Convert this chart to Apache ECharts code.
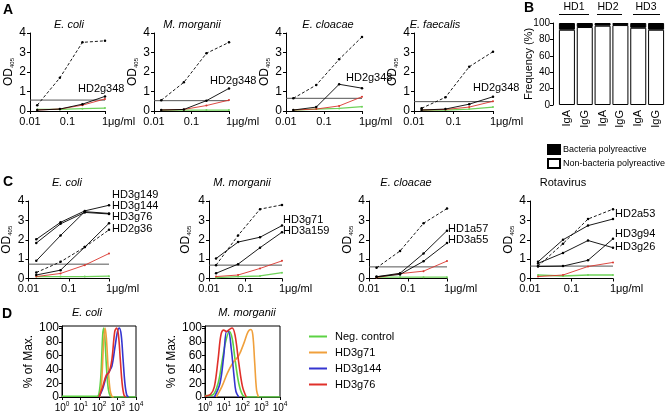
<!DOCTYPE html>
<html><head><meta charset="utf-8">
<script src="https://cdn.jsdelivr.net/npm/echarts@6/dist/echarts.min.js"></script>
<style>html,body{margin:0;padding:0;background:#fff}#c{width:665px;height:415px}</style>
</head><body><div id="c"></div>
<script>
// ---------------- DATA ----------------
const dilutions = [0.0156, 0.0625, 0.25, 1];           // µg/ml
// Panel A (per antigen: E. coli, M. morganii, E. cloacae, E. faecalis)
const aTitles = ['E. coli', 'M. morganii', 'E. cloacae', 'E. faecalis'];
const aPositive = [[0.30, 1.70, 3.52, 3.60], [0.55, 1.47, 2.96, 3.52], [0.65, 1.33, 2.65, 3.80], [0.14, 0.70, 2.27, 3.04]];
const aCutoff = [0.56, 0.53, 0.65, 0.48];
const aHD2g348 = [[0.05, 0.10, 0.35, 0.75], [0.05, 0.08, 0.53, 1.16], [0.05, 0.20, 1.37, 1.17], [0.05, 0.10, 0.35, 0.73]];
const aRed = [[0.05, 0.10, 0.30, 0.62], [0.05, 0.08, 0.28, 0.56], [0.05, 0.10, 0.26, 0.73], [0.05, 0.08, 0.20, 0.50]];
const aGreen = [[0.08, 0.08, 0.12, 0.15], [0.05, 0.05, 0.05, 0.05], [0.05, 0.10, 0.13, 0.22], [0.05, 0.05, 0.10, 0.20]];

// Panel B
const bGroups = ['HD1', 'HD2', 'HD3'];
const bCategories = ['HD1 IgA', 'HD1 IgG', 'HD2 IgA', 'HD2 IgG', 'HD3 IgA', 'HD3 IgG'];
const bNonBacteria = [91.8, 95.1, 96.7, 97.5, 94.2, 91.8];
const bBacteria = [8.2, 4.9, 3.3, 2.5, 5.8, 8.2];

// Panel C
const cTitles = ['E. coli', 'M. morganii', 'E. cloacae', 'Rotavirus'];
const cEcoliSolid = {HD3g149: [2.02, 2.90, 3.49, 3.78], HD3g144: [1.83, 2.82, 3.41, 3.33], HD3g76: [0.91, 2.22, 3.45, 3.36], other: [0.18, 0.43, 1.62, 2.85]};
const cEcoliDashed = [0.31, 0.86, 1.62, 2.51];
const cEcoliRed = [0.10, 0.26, 0.69, 1.29];
const cEcoliGreen = [0.10, 0.10, 0.10, 0.12];
const cEcoliCutoff = 0.74;

const cMorgDashed = [0.69, 2.22, 3.58, 3.80];
const cMorgSolid = {HD3g71: [1.03, 1.88, 2.13, 2.73], HD3a159: [0.27, 0.74, 1.59, 2.39]};
const cMorgRed = [0.10, 0.18, 0.52, 0.91];
const cMorgGreen = [0.05, 0.10, 0.13, 0.30];
const cMorgCutoff = 0.69;

const cCloDashed = [0.55, 1.42, 2.85, 3.61];
const cCloSolid = {HD1a57: [0.09, 0.27, 1.29, 2.47], HD3a55: [0.09, 0.21, 0.89, 1.83]};
const cCloRed = [0.05, 0.25, 0.38, 0.90];
const cCloGreen = [0.07, 0.07, 0.07, 0.07];
const cCloCutoff = 0.60;

const cRotaDashed = [0.64, 1.80, 3.07, 3.58];
const cRotaSolid = {HD2a53: [0.86, 2.00, 2.73, 3.07], HD3g26: [0.78, 1.32, 1.96, 1.59], HD3g94: [0.62, 0.64, 0.94, 2.05]};
const cRotaRed = [0.10, 0.18, 0.62, 0.83];
const cRotaGreen = [0.18, 0.13, 0.18, 0.18];
const cRotaCutoff = 0.64;

// Panel D : [log10 fluorescence, % of max]
const dEcoliNeg = [[0,1],[1.9,1],[2.0,5],[2.1,30],[2.2,90],[2.26,100],[2.32,85],[2.4,45],[2.5,12],[2.6,2],[2.7,0],[4,0]];
const dEcoliHD3g71 = [[2.05,0],[2.15,25],[2.25,80],[2.33,100],[2.4,85],[2.5,40],[2.6,10],[2.7,1],[2.8,0]];
const dEcoliHD3g144 = [[2.0,0],[2.2,12],[2.4,30],[2.55,37],[2.7,45],[2.85,70],[3.0,95],[3.1,100],[3.2,90],[3.3,55],[3.4,20],[3.5,3],[3.6,0]];
const dEcoliHD3g76 = [[2.0,0],[2.2,15],[2.4,32],[2.55,36],[2.7,55],[2.85,95],[2.95,100],[3.05,90],[3.15,55],[3.25,20],[3.35,3],[3.45,0]];
const dMorgNeg = [[0,2],[0.4,3],[0.7,20],[0.9,50],[1.1,80],[1.3,95],[1.45,85],[1.6,55],[1.8,20],[2.0,3],[2.2,0],[4,0]];
const dMorgHD3g71 = [[0.6,0],[0.9,15],[1.2,35],[1.5,50],[1.8,60],[2.1,80],[2.3,95],[2.45,98],[2.55,90],[2.65,50],[2.75,10],[2.85,0]];
const dMorgHD3g144 = [[0.5,0],[0.8,20],[1.0,60],[1.15,95],[1.25,95],[1.4,70],[1.55,30],[1.65,8],[1.8,0]];
const dMorgHD3g76 = [[0,1],[0.3,4],[0.5,15],[0.7,55],[0.85,90],[1.0,97],[1.15,95],[1.3,98],[1.45,100],[1.6,90],[1.8,50],[2.0,15],[2.2,0]];
const dDecades = [0, 1, 2, 3, 4];

// ---------------- STYLE / LAYOUT ----------------
const FONT = '"Liberation Sans", Arial, Helvetica, sans-serif';
const RED = '#d9362e', GREEN = '#6fd25a';
const C_ORANGE = '#f0a03c', C_BLUE = '#3535d0', C_RED = '#e0302a', C_GREEN = '#5cd244';
const grids = [], xAxes = [], yAxes = [], series = [], graphics = [];

function txt(x, y, text, opt) {
  opt = opt || {};
  graphics.push({type: 'text', x, y, rotation: opt.rot || 0, silent: true, style: {text, fill: '#000',
    font: (opt.style || '') + ' ' + (opt.size || 11) + 'px ' + FONT,
    align: opt.align || 'left', verticalAlign: 'middle'}});
}

const odName = {name: '{a|OD}{b|405}', nameLocation: 'middle', nameRotate: 90,
  nameTextStyle: {rich: {a: {fontSize: 12, fontFamily: FONT, color: '#000'}, b: {fontSize: 6, fontFamily: FONT, color: '#000', padding: [7, 0, 0, 0]}}}};

function dilutionPanel(left, top, width, height, nameGap) {
  const gi = grids.length;
  grids.push({left, top, width, height, containLabel: false});
  xAxes.push({type: 'log', gridIndex: gi, logBase: 10, min: 0.01, max: 1,
    axisLine: {lineStyle: {color: '#000', width: 1}}, axisTick: {length: 3, lineStyle: {color: '#000'}},
    splitLine: {show: false}, minorTick: {show: false},
    axisLabel: {color: '#000', fontSize: 11, fontFamily: FONT, margin: 5,
      formatter: v => { const e = Math.round(Math.log10(v)); return e === 0 ? '{u|1μg/ml}' : (e === -1 ? '0.1' : '0.01'); },
      rich: {u: {fontSize: 11, fontFamily: FONT, color: '#000', padding: [0, 0, 0, 27]}}}});
  yAxes.push(Object.assign({type: 'value', gridIndex: gi, min: 0, max: 4, interval: 1, nameGap,
    axisLine: {show: true, lineStyle: {color: '#000', width: 1}}, axisTick: {show: true, length: 3, lineStyle: {color: '#000'}},
    splitLine: {show: false}, axisLabel: {color: '#000', fontSize: 12, fontFamily: FONT, margin: 4}}, odName));
  return gi;
}
function line(gi, name, values, color, opt) {
  opt = opt || {};
  series.push({type: 'line', name, xAxisIndex: gi, yAxisIndex: gi,
    data: dilutions.map((x, i) => [x, values[i]]),
    symbol: 'circle', symbolSize: opt.sym || 2.5, showSymbol: true,
    lineStyle: {color, width: opt.w || 0.9, type: opt.dash ? [3, 2] : 'solid'},
    itemStyle: {color}, silent: true, z: opt.z || 3});
}
function cutoff(gi, name, v) {
  series.push({type: 'line', name, xAxisIndex: gi, yAxisIndex: gi, data: [[0.01, v], [1, v]],
    symbol: 'none', lineStyle: {color: '#555', width: 1}, silent: true, z: 2});
}

// ---- Panel A ----
const aLayout = [[30, 75], [154, 75], [286, 76], [414, 79]];
const aTitleX = [69, 192, 328, 435];
const aLabelPos = [[78, 89], [210, 81], [346, 78], [473, 88]];
aTitles.forEach((t, k) => {
  const gi = dilutionPanel(aLayout[k][0], 33, aLayout[k][1], 78, 15);
  cutoff(gi, 'A cutoff ' + k, aCutoff[k]);
  line(gi, 'A green ' + k, aGreen[k], GREEN, {w: 1.3, sym: 2});
  line(gi, 'A red ' + k, aRed[k], RED, {w: 0.9, sym: 2});
  line(gi, 'A HD2g348 ' + k, aHD2g348[k], '#000');
  line(gi, 'A positive ' + k, aPositive[k], '#000', {dash: true});
  txt(aTitleX[k], 25, t, {style: 'italic', align: 'center', size: 11});
  txt(aLabelPos[k][0], aLabelPos[k][1], 'HD2g348', {size: 11});
});

// ---- Panel B ----
{
  const gi = grids.length;
  grids.push({left: 558, top: 23, width: 110, height: 82});
  xAxes.push({type: 'category', gridIndex: gi, data: bCategories, axisLine: {show: false}, axisTick: {show: false},
    axisLabel: {rotate: 90, color: '#000', fontSize: 11, fontFamily: FONT, margin: 5, formatter: v => v.split(' ')[1]}});
  yAxes.push({type: 'value', gridIndex: gi, min: 0, max: 100, interval: 20, offset: 5,
    axisLine: {show: true, lineStyle: {color: '#000'}}, axisTick: {show: true, length: 3, lineStyle: {color: '#000'}},
    splitLine: {show: false}, axisLabel: {color: '#000', fontSize: 10, fontFamily: FONT, margin: 3}});
  series.push({type: 'bar', name: 'Non-bacteria polyreactive', stack: 'b', xAxisIndex: gi, yAxisIndex: gi, data: bNonBacteria,
    barWidth: 16, itemStyle: {color: '#fff', borderColor: '#000', borderWidth: 1}, silent: true});
  series.push({type: 'bar', name: 'Bacteria polyreactive', stack: 'b', xAxisIndex: gi, yAxisIndex: gi, data: bBacteria,
    barWidth: 16, itemStyle: {color: '#000', borderColor: '#000', borderWidth: 1}, silent: true});
  const gx = [[574, 559, 589], [608, 597, 622], [646, 633, 660]];
  bGroups.forEach((g, k) => {
    txt(gx[k][0], 7, g, {align: 'center', size: 10.5});
    graphics.push({type: 'line', silent: true, shape: {x1: gx[k][1], y1: 14.5, x2: gx[k][2], y2: 14.5}, style: {stroke: '#000', lineWidth: 1}});
  });
  txt(529, 64, 'Frequency (%)', {align: 'center', size: 11, rot: Math.PI / 2});
}

// ---- Panel C ----
const cLayout = [[28, 81], [209, 73], [369, 78], [530, 83]];
const cTitleX = [67, 242, 406, 563];
{
  // E. coli
  let gi = dilutionPanel(cLayout[0][0], 201, cLayout[0][1], 77.5, 15);
  cutoff(gi, 'C cutoff 0', cEcoliCutoff);
  line(gi, 'C green 0', cEcoliGreen, GREEN, {w: 1.3, sym: 2});
  line(gi, 'C red 0', cEcoliRed, RED, {sym: 2});
  Object.keys(cEcoliSolid).forEach(n => line(gi, 'C0 ' + n, cEcoliSolid[n], '#000'));
  line(gi, 'C dashed 0', cEcoliDashed, '#000', {dash: true});
  [['HD3g149', 195], ['HD3g144', 205.5], ['HD3g76', 217], ['HD2g36', 229]].forEach(p => txt(112, p[1], p[0], {size: 11}));
  // M. morganii
  gi = dilutionPanel(cLayout[1][0], 201, cLayout[1][1], 77.5, 17);
  cutoff(gi, 'C cutoff 1', cMorgCutoff);
  line(gi, 'C green 1', cMorgGreen, GREEN, {w: 1.3, sym: 2});
  line(gi, 'C red 1', cMorgRed, RED, {sym: 2});
  Object.keys(cMorgSolid).forEach(n => line(gi, 'C1 ' + n, cMorgSolid[n], '#000'));
  line(gi, 'C dashed 1', cMorgDashed, '#000', {dash: true});
  [['HD3g71', 220], ['HD3a159', 231]].forEach(p => txt(283, p[1], p[0], {size: 11}));
  // E. cloacae
  gi = dilutionPanel(cLayout[2][0], 201, cLayout[2][1], 77.5, 14);
  cutoff(gi, 'C cutoff 2', cCloCutoff);
  line(gi, 'C green 2', cCloGreen, GREEN, {w: 1.3, sym: 2});
  line(gi, 'C red 2', cCloRed, RED, {sym: 2});
  Object.keys(cCloSolid).forEach(n => line(gi, 'C2 ' + n, cCloSolid[n], '#000'));
  line(gi, 'C dashed 2', cCloDashed, '#000', {dash: true});
  [['HD1a57', 229], ['HD3a55', 240]].forEach(p => txt(448, p[1], p[0], {size: 11}));
  // Rotavirus
  gi = dilutionPanel(cLayout[3][0], 201, cLayout[3][1], 77.5, 13);
  cutoff(gi, 'C cutoff 3', cRotaCutoff);
  line(gi, 'C green 3', cRotaGreen, GREEN, {w: 1.3, sym: 2});
  line(gi, 'C red 3', cRotaRed, RED, {sym: 2});
  Object.keys(cRotaSolid).forEach(n => line(gi, 'C3 ' + n, cRotaSolid[n], '#000'));
  line(gi, 'C dashed 3', cRotaDashed, '#000', {dash: true});
  [['HD2a53', 214], ['HD3g94', 233.5], ['HD3g26', 247]].forEach(p => txt(615, p[1], p[0], {size: 11}));
  cTitles.forEach((t, k) => txt(cTitleX[k], 183, t, {style: k === 3 ? '' : 'italic', align: 'center', size: 11}));
}

// ---- Panel D ----
function histPanel(left, width, nameGap) {
  const gi = grids.length;
  grids.push({left, top: 326, width, height: 71, show: true, borderColor: '#000', borderWidth: 1, backgroundColor: 'rgba(0,0,0,0)'});
  xAxes.push({type: 'value', gridIndex: gi, min: dDecades[0], max: dDecades[dDecades.length - 1], interval: 1,
    axisLine: {lineStyle: {color: '#000'}}, axisTick: {length: 3, lineStyle: {color: '#000'}}, splitLine: {show: false},
    axisLabel: {color: '#000', margin: 4, formatter: v => '{b|10}{s|' + v + '}',
      rich: {b: {fontSize: 10, fontFamily: FONT, color: '#000'}, s: {fontSize: 6.5, fontFamily: FONT, color: '#000', padding: [0, 0, 7, 0]}}}});
  yAxes.push({type: 'value', gridIndex: gi, min: 0, max: 103, interval: 20,
    name: '% of Max.', nameLocation: 'middle', nameRotate: 90, nameGap,
    nameTextStyle: {fontSize: 12, fontFamily: FONT, color: '#000'},
    axisLine: {show: true, lineStyle: {color: '#000'}}, axisTick: {show: true, length: 3, lineStyle: {color: '#000'}},
    splitLine: {show: false},
    axisLabel: {color: '#000', fontSize: 12, fontFamily: FONT, margin: 3, formatter: v => (v % 20 === 0 ? String(v) : '')}});
  return gi;
}
function hist(gi, name, data, color) {
  series.push({type: 'line', name, xAxisIndex: gi, yAxisIndex: gi, data, smooth: 0.35, symbol: 'none',
    lineStyle: {color, width: 1.6}, itemStyle: {color}, silent: true});
}
{
  let gi = histPanel(62, 74, 24);
  hist(gi, 'Neg. control', dEcoliNeg, C_GREEN);
  hist(gi, 'HD3g71', dEcoliHD3g71, C_ORANGE);
  hist(gi, 'HD3g144', dEcoliHD3g144, C_BLUE);
  hist(gi, 'HD3g76', dEcoliHD3g76, C_RED);
  gi = histPanel(205, 75, 18);
  hist(gi, 'Neg. control', dMorgNeg, C_GREEN);
  hist(gi, 'HD3g71', dMorgHD3g71, C_ORANGE);
  hist(gi, 'HD3g144', dMorgHD3g144, C_BLUE);
  hist(gi, 'HD3g76', dMorgHD3g76, C_RED);
  txt(87, 313, 'E. coli', {style: 'italic', align: 'center', size: 11});
  txt(247, 313, 'M. morganii', {style: 'italic', align: 'center', size: 11});
}

// Panel letters
[['A', 3, 10], ['B', 524, 8], ['C', 3, 182], ['D', 2, 314]].forEach(p => txt(p[1], p[2], p[0], {style: 'bold', size: 14}));

const option = {
  animation: false, backgroundColor: '#fff', textStyle: {fontFamily: FONT},
  grid: grids, xAxis: xAxes, yAxis: yAxes, series,
  legend: [
    {data: ['Bacteria polyreactive', 'Non-bacteria polyreactive'], orient: 'vertical', left: 542, top: 139,
      itemWidth: 12, itemHeight: 9, itemGap: 3, icon: 'rect', selectedMode: false,
      textStyle: {fontSize: 9, fontFamily: FONT, color: '#000', padding: [0, 0, 0, -2]}},
    {data: ['Neg. control', 'HD3g71', 'HD3g144', 'HD3g76'], orient: 'vertical', left: 304, top: 326,
      itemWidth: 18, itemHeight: 2, itemGap: 5, icon: 'rect', selectedMode: false,
      textStyle: {fontSize: 11, fontFamily: FONT, color: '#000', padding: [0, 0, 0, 3]}}
  ],
  graphic: {elements: graphics}
};
const chart = echarts.init(document.getElementById('c'), null, {renderer: 'canvas'});
chart.setOption(option);
</script></body></html>
